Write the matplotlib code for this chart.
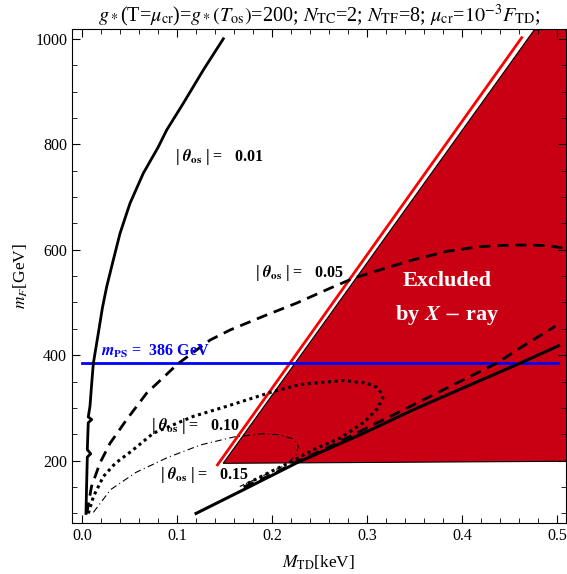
import matplotlib
matplotlib.use("Agg")
import matplotlib.pyplot as plt
from matplotlib.patches import Polygon
from matplotlib.ticker import MultipleLocator

plt.rcParams['font.family'] = ['Liberation Serif', 'DejaVu Serif']
plt.rcParams['mathtext.fontset'] = 'stix'

# |theta_os| = 0.01 (upper branch, solid)
th01_x = [0.0042, 0.0049, 0.0056, 0.0092, 0.0056, 0.0066, 0.0102, 0.0066, 0.0084, 0.0102,
          0.0119, 0.0172, 0.0215, 0.026, 0.033, 0.040, 0.0505, 0.0645, 0.0803, 0.0891,
          0.1067, 0.1277, 0.1487]
th01_y = [100, 157, 207, 213, 221, 272, 278, 283, 303, 346,
          384, 442, 490, 530, 581, 631, 688, 745, 795, 827,
          878, 941, 1000]
# lower solid branch
low_x = [0.120, 0.1700, 0.226, 0.2435, 0.296, 0.349, 0.401, 0.461, 0.5014]
low_y = [100, 145, 196, 210, 252, 297, 338, 385, 418]

# |theta_os| = 0.05 (dashed)
th05_x = [0.005, 0.010, 0.019, 0.0295, 0.047, 0.068, 0.101, 0.135, 0.156, 0.191, 0.226,
          0.261, 0.2856, 0.3137, 0.3487, 0.384, 0.419, 0.454, 0.489, 0.5067]
th05_y = [100, 151, 196, 233, 278, 328, 384, 429, 448, 474, 499,
          527, 546, 562, 581, 597, 606, 609, 608, 603]
th05_low_x = [0.170, 0.200, 0.226, 0.261, 0.296, 0.331, 0.384, 0.4365, 0.461, 0.498]
th05_low_y = [150, 174, 198, 227, 259, 290, 338, 385, 414, 455]

# |theta_os| = 0.10 (dotted)
th10_x = [0.0067, 0.012, 0.0225, 0.035, 0.052, 0.075, 0.117, 0.152, 0.201, 0.229, 0.2435,
          0.275, 0.2995, 0.309, 0.314, 0.3165, 0.310, 0.296, 0.2716, 0.2435, 0.219, 0.195, 0.170]
th10_y = [100, 132, 170, 195, 218, 252, 284, 303, 331, 344, 347,
          352, 347, 340, 330, 319, 297, 272, 243, 221, 197, 176, 153]

# |theta_os| = 0.15 (dash-dot)
th15_x = [0.012, 0.030, 0.057, 0.090, 0.125, 0.160, 0.190, 0.208, 0.2225, 0.2277, 0.225,
          0.2155, 0.190, 0.166]
th15_y = [102, 145, 178, 206, 230, 245, 251, 249, 241, 227, 211,
          193, 171, 151]

# excluded region and its bound
excl_x = [0.1485, 0.4758, 0.520, 0.520]
excl_y = [195, 1017, 1020, 199]
bound_x = [0.1425, 0.4625]
bound_y = [192, 1002]

m_ps = 386

fig = plt.figure(figsize=(5.67, 5.74), dpi=100)
ax = fig.add_axes([0.127, 0.089, 0.871, 0.86])

ax.add_patch(Polygon(list(zip(excl_x, excl_y)), closed=True, facecolor='#c90014',
                     edgecolor='black', linewidth=0.8, zorder=1))
ax.plot(bound_x, bound_y, color='red', lw=2.0, zorder=2)
ax.axhline(m_ps, xmin=0.02, xmax=0.985, color='blue', lw=2.0, zorder=3)

ax.plot(th01_x, th01_y, color='black', lw=2.0, zorder=4)
ax.plot(low_x, low_y, color='black', lw=2.2, zorder=4)
ax.plot(th05_x, th05_y, color='black', lw=2.0, ls=(0, (4, 2.5)), zorder=4)
ax.plot(th05_low_x, th05_low_y, color='black', lw=2.0, ls=(0, (4, 2.5)), zorder=4)
ax.plot(th10_x, th10_y, color='black', lw=2.2, ls=(0, (1, 1.2)), zorder=4)
ax.plot(th15_x, th15_y, color='black', lw=0.8, ls=(0, (6, 3, 1, 3)), zorder=4)

lab = dict(fontsize=11.5, fontweight='bold', va='center', ha='left', zorder=5)
theta = r"| $\mathbfit{\theta}_{\mathbf{os}}$ | =   "
ax.text(0.098, 776, theta + "0.01", **lab)
ax.text(0.182, 555, theta + "0.05", **lab)
ax.text(0.073, 265, theta + "0.10", **lab)
ax.text(0.082, 173, theta + "0.15", **lab)
ax.text(0.0197, 408, r"$\mathbfit{m}_{\mathbf{PS}}$ =  386 GeV", color='blue',
        fontsize=11.5, fontweight='bold', va='center', ha='left', zorder=5)
ax.text(0.384, 540, "Excluded", color='white', fontsize=16, fontweight='bold',
        ha='center', va='center', zorder=5)
ax.text(0.384, 477, r"by $\mathbfit{X}$ $-$ ray", color='white', fontsize=16,
        fontweight='bold', ha='center', va='center', zorder=5)

ax.set_xlim(-0.0105, 0.509)
ax.set_ylim(82, 1018)
ax.xaxis.set_major_locator(MultipleLocator(0.1))
ax.xaxis.set_minor_locator(MultipleLocator(0.02))
ax.yaxis.set_major_locator(MultipleLocator(200))
ax.yaxis.set_minor_locator(MultipleLocator(50))
ax.tick_params(which='both', direction='in', top=True, right=True, labelsize=11.5,
               labelfontfamily='Liberation Serif')
ax.tick_params(which='major', length=6)
ax.tick_params(which='minor', length=3.5)
ax.xaxis.set_major_formatter(plt.FuncFormatter(lambda v, p: "%.1f" % v))

ax.set_xlabel(r"$M_{\rm TD}$[keV]", fontsize=12.5, labelpad=7)
ax.set_ylabel(r"$m_F$[GeV]", fontsize=12.5, labelpad=4)
ax.set_title(r"$g_*$(T=$\mu_{\rm cr}$)=$g_*(T_{\rm os})$=200; $N_{\rm TC}$=2; "
             r"$N_{\rm TF}$=8; $\mu_{\rm cr}$=$10^{-3}F_{\rm TD}$;", fontsize=14.5, pad=2)

fig.savefig("out.png", dpi=100)
